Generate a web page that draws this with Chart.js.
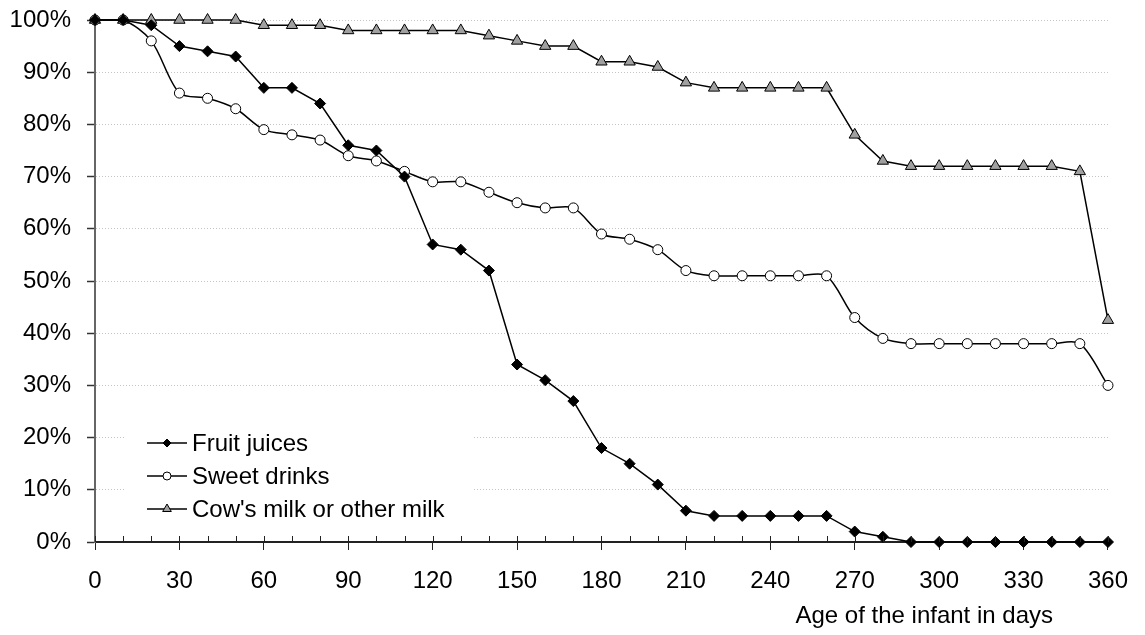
<!DOCTYPE html>
<html>
<head>
<meta charset="utf-8">
<script src="https://cdn.jsdelivr.net/npm/chart.js@4"></script>
<style>
  html, body { margin: 0; padding: 0; background: #fff; }
  #wrap { width: 1145px; height: 635px; position: relative; }
</style>
</head>
<body>
<div id="wrap"><canvas id="chart"></canvas></div>
<script>
const days = [0, 10, 20, 30, 40, 50, 60, 70, 80, 90, 100, 110, 120, 130, 140, 150, 160, 170, 180,
              190, 200, 210, 220, 230, 240, 250, 260, 270, 280, 290, 300, 310, 320, 330, 340, 350, 360];
const fruitJuices = [100, 100, 99, 95, 94, 93, 87, 87, 84, 76, 75, 70, 57, 56, 52, 34, 31, 27, 18,
                     15, 11, 6, 5, 5, 5, 5, 5, 2, 1, 0, 0, 0, 0, 0, 0, 0, 0];
const sweetDrinks = [100, 100, 96, 86, 85, 83, 79, 78, 77, 74, 73, 71, 69, 69, 67, 65, 64, 64, 59,
                     58, 56, 52, 51, 51, 51, 51, 51, 43, 39, 38, 38, 38, 38, 38, 38, 38, 30];
const cowsMilk = [100, 100, 100, 100, 100, 100, 99, 99, 99, 98, 98, 98, 98, 98, 97, 96, 95, 95, 92,
                  92, 91, 88, 87, 87, 87, 87, 87, 78, 73, 72, 72, 72, 72, 72, 72, 71, 42.5];
const seriesNames = ['Fruit juices', 'Sweet drinks', "Cow's milk or other milk"];
const xTitle = 'Age of the infant in days';

const FONT = "'Liberation Sans', Arial, sans-serif";

function pts(vals) {
    return days.map((d, i) => ({ x: d, y: vals[i] }));
}

// minor ticks on x axis + axis title + legend box
const extras = {
    id: 'extras',
    afterDatasetsDraw(chart) {
        const ctx = chart.ctx;
        const xs = chart.scales.x;
        const y0 = chart.chartArea.bottom;
        ctx.save();
        ctx.strokeStyle = '#222';
        ctx.lineWidth = 1;
        days.forEach(d => {
            const px = Math.round(xs.getPixelForValue(d)) + 0.5;
            ctx.beginPath();
            ctx.moveTo(px, y0 - 6);
            ctx.lineTo(px, y0);
            ctx.stroke();
        });

        // axis title
        ctx.fillStyle = '#000';
        ctx.font = '24px ' + FONT;
        ctx.textAlign = 'right';
        ctx.textBaseline = 'middle';
        ctx.fillText(xTitle, 1053, 616);

        // legend
        ctx.fillStyle = '#fff';
        ctx.fillRect(126, 424, 346, 102);
        const rowY = [443, 476, 509];
        chart.data.datasets.forEach((ds, i) => {
            const y = rowY[i];
            ctx.strokeStyle = '#000';
            ctx.lineWidth = 1.5;
            ctx.beginPath();
            ctx.moveTo(147, y);
            ctx.lineTo(187, y);
            ctx.stroke();
            ctx.fillStyle = ds.pointBackgroundColor;
            ctx.strokeStyle = '#000';
            ctx.lineWidth = 1;
            Chart.helpers.drawPoint(ctx, {
                pointStyle: ds.pointStyle,
                radius: ds.pointStyle === 'triangle' ? 5 : 4,
                rotation: 0,
                borderWidth: 1
            }, 167, y);
            ctx.fillStyle = '#000';
            ctx.textAlign = 'left';
            ctx.fillText(ds.label, 192, y + 1);
        });
        ctx.restore();
    }
};

new Chart(document.getElementById('chart'), {
    type: 'line',
    data: {
        datasets: [{
            label: seriesNames[0],
            data: pts(fruitJuices),
            borderColor: '#000',
            borderWidth: 1.5,
            pointStyle: 'rectRot',
            pointRadius: 5.5,
            pointBackgroundColor: '#000',
            pointBorderColor: '#000',
            pointBorderWidth: 1,
            tension: 0,
            clip: false
        }, {
            label: seriesNames[1],
            data: pts(sweetDrinks),
            borderColor: '#000',
            borderWidth: 1.5,
            pointStyle: 'circle',
            pointRadius: 5,
            pointBackgroundColor: '#fff',
            pointBorderColor: '#000',
            pointBorderWidth: 1,
            tension: 0.3,
            clip: false
        }, {
            label: seriesNames[2],
            data: pts(cowsMilk),
            borderColor: '#000',
            borderWidth: 1.5,
            pointStyle: 'triangle',
            pointRadius: 6.5,
            pointBackgroundColor: '#a0a0a0',
            pointBorderColor: '#000',
            pointBorderWidth: 1,
            tension: 0,
            clip: false
        }]
    },
    options: {
        responsive: true,
        maintainAspectRatio: false,
        animation: false,
        events: [],
        layout: { padding: { top: 20, right: 27, left: 0, bottom: 0 } },
        plugins: {
            legend: { display: false },
            tooltip: { enabled: false }
        },
        scales: {
            x: {
                type: 'linear',
                min: 0,
                max: 360,
                afterFit: s => { s.height = 93; },
                ticks: {
                    stepSize: 30,
                    color: '#000',
                    font: { family: FONT, size: 24 },
                    padding: 17,
                    maxRotation: 0,
                    autoSkip: false
                },
                grid: {
                    drawOnChartArea: false,
                    tickLength: 8,
                    tickColor: '#222',
                    tickWidth: 1
                },
                border: { color: '#222', width: 2 }
            },
            y: {
                min: 0,
                max: 100,
                afterFit: s => { s.width = 95; s.paddingTop = 0; s.paddingBottom = 0; },
                ticks: {
                    stepSize: 10,
                    color: '#000',
                    font: { family: FONT, size: 24 },
                    padding: 16,
                    callback: v => v + '%'
                },
                grid: {
                    color: '#c4c4c4',
                    lineWidth: 1,
                    tickLength: 8,
                    tickColor: '#333',
                    tickBorderDash: [],
                    tickWidth: 1.5
                },
                border: { color: '#666', width: 2, dash: [1, 2] }
            }
        }
    },
    plugins: [extras]
});
</script>
</body>
</html>
